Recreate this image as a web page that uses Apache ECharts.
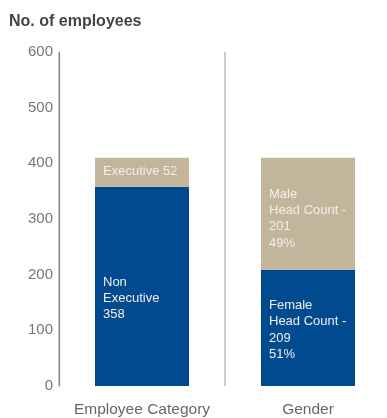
<!DOCTYPE html>
<html>
<head>
<meta charset="utf-8">
<script src="https://cdn.jsdelivr.net/npm/echarts@6/dist/echarts.min.js"></script>
<style>
  html, body { margin: 0; padding: 0; background: #fff; }
  #chart { width: 387px; height: 418px; }
</style>
</head>
<body>
<div id="chart"></div>
<script>
// Headcount split by category and by gender
const categories = ['Employee Category', 'Gender'];
const lowerValues = [358, 209];           // Non Executive, Female
const upperValues = [52, 201];            // Executive, Male
const lowerLabels = ['Non\nExecutive\n358', 'Female\nHead Count -\n209\n51%'];
const upperLabels = ['Executive 52', 'Male\nHead Count -\n201\n49%'];
const yTicks = [0, 100, 200, 300, 400, 500, 600];

const BLUE = '#004a8f';
const TAN = '#c2b59b';
const FONT = '"Liberation Sans", Arial, sans-serif';

const labelStyle = {
  show: true,
  position: 'insideLeft',
  distance: 8,
  color: '#f2efe8',
  fontFamily: FONT,
  fontSize: 13,
  lineHeight: 16.3,
  align: 'left'
};

const chart = echarts.init(document.getElementById('chart'), null, { renderer: 'canvas' });
chart.setOption({
  animation: false,
  title: {
    text: 'No. of employees',
    left: 4,
    top: 9,
    textStyle: { fontFamily: FONT, fontSize: 16, fontWeight: 'bold', color: '#444' }
  },
  // plot runs past the right edge so the last category boundary stays hidden
  grid: {
    left: 59, width: 332, top: 52, bottom: 32,
    containLabel: false,
    outerBoundsMode: 'none'
  },
  xAxis: {
    type: 'category',
    data: categories,
    axisLine: { show: false },
    axisTick: { show: false },
    axisLabel: { color: '#666', fontFamily: FONT, fontSize: 15.5, margin: 16, interval: 0, hideOverlap: false },
    splitLine: { show: true, interval: 0, lineStyle: { color: '#bbb', width: 1.5 } }
  },
  yAxis: {
    type: 'value',
    min: yTicks[0],
    max: yTicks[yTicks.length - 1],
    interval: 100,
    axisLine: { show: true, lineStyle: { color: '#888', width: 1.2 } },
    axisTick: { show: false },
    splitLine: { show: false },
    axisLabel: { color: '#777', fontFamily: FONT, fontSize: 15, margin: 6 }
  },
  series: [
    {
      type: 'bar',
      stack: 'total',
      barWidth: 94,
      itemStyle: { color: BLUE },
      data: lowerValues.map((v, i) => ({
        value: v,
        label: Object.assign({}, labelStyle, {
          formatter: lowerLabels[i],
          offset: i === 0 ? [0, 12] : [0, 2]
        })
      }))
    },
    {
      type: 'bar',
      stack: 'total',
      barWidth: 94,
      itemStyle: { color: TAN },
      data: upperValues.map((v, i) => ({
        value: v,
        label: Object.assign({}, labelStyle, {
          formatter: upperLabels[i],
          offset: i === 0 ? [0, -1] : [0, 5]
        })
      }))
    }
  ]
});
</script>
</body>
</html>
